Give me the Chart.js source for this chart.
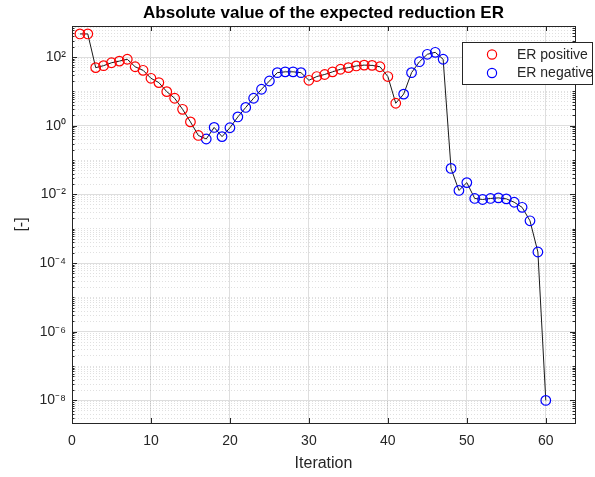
<!DOCTYPE html>
<html lang="en">
<head>
<meta charset="UTF-8">
<title>Absolute value of the expected reduction ER</title>
<script src="https://cdn.jsdelivr.net/npm/chart.js@4.4.1/dist/chart.umd.min.js"></script>
<style>
  html, body { margin: 0; padding: 0; background: #fff; }
  #wrap { width: 595px; height: 477px; }
</style>
</head>
<body>
<div id="wrap"><canvas id="erChart" width="595" height="477"></canvas></div>
<script>
// values
const iterations = [1, 2, 3, 4, 5, 6, 7, 8, 9, 10,
                    11, 12, 13, 14, 15, 16, 17, 18, 19, 20,
                    21, 22, 23, 24, 25, 26, 27, 28, 29, 30,
                    31, 32, 33, 34, 35, 36, 37, 38, 39, 40,
                    41, 42, 43, 44, 45, 46, 47, 48, 49, 50,
                    51, 52, 53, 54, 55, 56, 57, 58, 59, 60];
const erAbs = [470, 470, 49, 56, 68, 76, 86, 52, 41, 24,
               18, 9.8, 6.3, 3.0, 1.29, 0.52, 0.41, 0.89, 0.48, 0.87,
               1.8, 3.4, 6.3, 11.5, 20, 35, 37, 37, 35, 21,
               27, 31, 37, 44, 49, 55, 58, 57, 52, 27,
               4.5, 8.3, 35, 73, 120, 137, 86, 0.057, 0.013, 0.022,
               0.0076, 0.0071, 0.0076, 0.0079, 0.0074, 0.0059, 0.0042, 0.0017, 0.00021, 1.0e-8];
// sign of ER: 1 = positive, -1 = negative
const erSign = [1, 1, 1, 1, 1, 1, 1, 1, 1, 1,
                1, 1, 1, 1, 1, 1, -1, -1, -1, -1,
                -1, -1, -1, -1, -1, -1, -1, -1, -1, 1,
                1, 1, 1, 1, 1, 1, 1, 1, 1, 1,
                1, -1, -1, -1, -1, -1, -1, -1, -1, -1,
                -1, -1, -1, -1, -1, -1, -1, -1, -1, -1];
const xTickValues = [0, 10, 20, 30, 40, 50, 60];
const yTickExponents = [-8, -6, -4, -2, 0, 2];
const xRange = [0, 63.7];
const yRange = [2.2e-9, 800];

const fontFamily = "'Liberation Sans', Arial, Helvetica, sans-serif";
const axisColor = '#262626';
const gridMajor = '#dedede';
const gridMinor = 'rgba(38,38,38,0.14)';

const supMap = {'-': '\u207B', '0': '\u2070', '1': '\u00B9', '2': '\u00B2', '3': '\u00B3',
  '4': '\u2074', '5': '\u2075', '6': '\u2076', '7': '\u2077', '8': '\u2078', '9': '\u2079'};
function powLabel(v) {
  const e = Math.round(Math.log10(v));
  return '10' + String(e).split('').map(c => supMap[c]).join('');
}

// minor log ticks k*10^n (not the labelled ones)
const minorTicks = [];
for (let n = -9; n <= 2; n++) {
  for (let k = 1; k <= 9; k++) {
    const v = k * Math.pow(10, n);
    if (v < yRange[0] || v > yRange[1]) continue;
    if (k === 1 && yTickExponents.includes(n)) continue;
    minorTicks.push(v);
  }
}

const pts = iterations.map((x, i) => ({x: x, y: erAbs[i]}));
const posPts = iterations.map((x, i) => erSign[i] > 0 ? {x: x, y: erAbs[i]} : null).filter(p => p);
const negPts = iterations.map((x, i) => erSign[i] < 0 ? {x: x, y: erAbs[i]} : null).filter(p => p);

// MATLAB style inward tick marks on all four sides
const innerTicks = {
  id: 'innerTicks',
  beforeDatasetsDraw(chart) {
    const {ctx, chartArea: a, scales} = chart;
    ctx.save();
    ctx.strokeStyle = axisColor;
    ctx.lineWidth = 1;
    ctx.beginPath();
    xTickValues.forEach(v => {
      const px = Math.round(scales.x.getPixelForValue(v)) + 0.5;
      ctx.moveTo(px, a.bottom); ctx.lineTo(px, a.bottom - 5);
      ctx.moveTo(px, a.top); ctx.lineTo(px, a.top + 5);
    });
    yTickExponents.forEach(e => {
      const py = Math.round(scales.y.getPixelForValue(Math.pow(10, e))) + 0.5;
      ctx.moveTo(a.left, py); ctx.lineTo(a.left + 5, py);
      ctx.moveTo(a.right, py); ctx.lineTo(a.right - 5, py);
    });
    minorTicks.forEach(v => {
      const py = Math.round(scales.y.getPixelForValue(v)) + 0.5;
      ctx.moveTo(a.left, py); ctx.lineTo(a.left + 2.5, py);
      ctx.moveTo(a.right, py); ctx.lineTo(a.right - 2.5, py);
    });
    ctx.stroke();
    ctx.restore();
  }
};

// legend box in the top right corner
const legendBox = {
  id: 'legendBox',
  afterDraw(chart) {
    const {ctx, chartArea: a} = chart;
    const x0 = a.right - 113, y0 = a.top + 16, w = 130, h = 42;
    ctx.save();
    ctx.fillStyle = '#fff';
    ctx.fillRect(x0, y0, w, h);
    ctx.strokeStyle = axisColor;
    ctx.lineWidth = 1;
    ctx.strokeRect(x0 + 0.5, y0 + 0.5, w, h);
    const items = chart.data.datasets.filter(d => d.inLegend);
    items.forEach((d, i) => {
      const cy = y0 + 12.5 + i * 18.5;
      ctx.beginPath();
      ctx.arc(x0 + 30, cy, 4.6, 0, Math.PI * 2);
      ctx.lineWidth = 1.2;
      ctx.strokeStyle = d.borderColor;
      ctx.stroke();
      ctx.fillStyle = axisColor;
      ctx.font = '14px ' + fontFamily;
      ctx.textBaseline = 'middle';
      ctx.fillText(d.label, x0 + 55, cy + 0.5);
    });
    ctx.restore();
  }
};

const ctx = document.getElementById('erChart').getContext('2d');
const erChart = new Chart(ctx, {
  type: 'scatter',
  data: {
    datasets: [
      {
        label: 'ER', data: pts, showLine: true, borderColor: '#1a1a1a', borderWidth: 1,
        pointRadius: 0, order: 2, inLegend: false
      },
      {
        label: 'ER positive', data: posPts, borderColor: 'rgb(255,0,0)', backgroundColor: 'rgba(0,0,0,0)',
        pointRadius: 4.8, pointBorderWidth: 1.2, order: 1, inLegend: true
      },
      {
        label: 'ER negative', data: negPts, borderColor: 'rgb(0,0,255)', backgroundColor: 'rgba(0,0,0,0)',
        pointRadius: 4.8, pointBorderWidth: 1.2, order: 1, inLegend: true
      }
    ]
  },
  options: {
    responsive: false,
    animation: false,
    devicePixelRatio: 1,
    layout: { padding: 0 },
    plugins: {
      legend: { display: false },
      tooltip: { enabled: false },
      title: {
        display: true, fullSize: false,
        text: 'Absolute value of the expected reduction ER',
        color: '#000',
        font: { family: fontFamily, size: 17, weight: 'bold', lineHeight: 1.2 },
        padding: { top: 3, bottom: 2.6 }
      }
    },
    scales: {
      x: {
        type: 'linear', position: 'bottom', min: xRange[0], max: xRange[1],
        afterBuildTicks: s => { s.ticks = xTickValues.map(v => ({value: v})); },
        afterFit: s => { s.height = 54; },
        grid: { color: gridMajor, drawTicks: false },
        border: { color: axisColor },
        ticks: {
          color: axisColor, font: { family: fontFamily, size: 14 }, padding: 10,
          autoSkip: false, maxRotation: 0, callback: v => v
        },
        title: {
          display: true, text: 'Iteration', color: axisColor,
          font: { family: fontFamily, size: 16 }, padding: { top: 0, bottom: 4 }
        }
      },
      x2: {
        type: 'linear', position: 'top', min: xRange[0], max: xRange[1],
        afterFit: s => { s.height = 0; },
        grid: { display: false, drawTicks: false },
        border: { color: axisColor },
        ticks: { display: false }
      },
      y: {
        type: 'logarithmic', position: 'left', min: yRange[0], max: yRange[1],
        afterBuildTicks: s => { s.ticks = yTickExponents.map(e => ({value: Math.pow(10, e)})); },
        afterFit: s => { s.width = 72; },
        grid: { color: gridMajor, drawTicks: false },
        border: { color: axisColor },
        ticks: {
          color: axisColor, font: { family: fontFamily, size: 14 }, padding: 6,
          autoSkip: false, callback: v => powLabel(v)
        },
        title: {
          display: true, text: '[-]', color: axisColor,
          font: { family: fontFamily, size: 16 }, padding: { top: 12, bottom: 0 }
        }
      },
      yMinor: {
        type: 'logarithmic', position: 'right', min: yRange[0], max: yRange[1],
        afterBuildTicks: s => { s.ticks = minorTicks.map(v => ({value: v})); },
        afterFit: s => { s.width = 20; },
        grid: { color: gridMinor, drawTicks: false },
        border: { color: axisColor, dash: [1, 2] },
        ticks: { display: false }
      }
    }
  },
  plugins: [innerTicks, legendBox]
});
</script>
</body>
</html>
